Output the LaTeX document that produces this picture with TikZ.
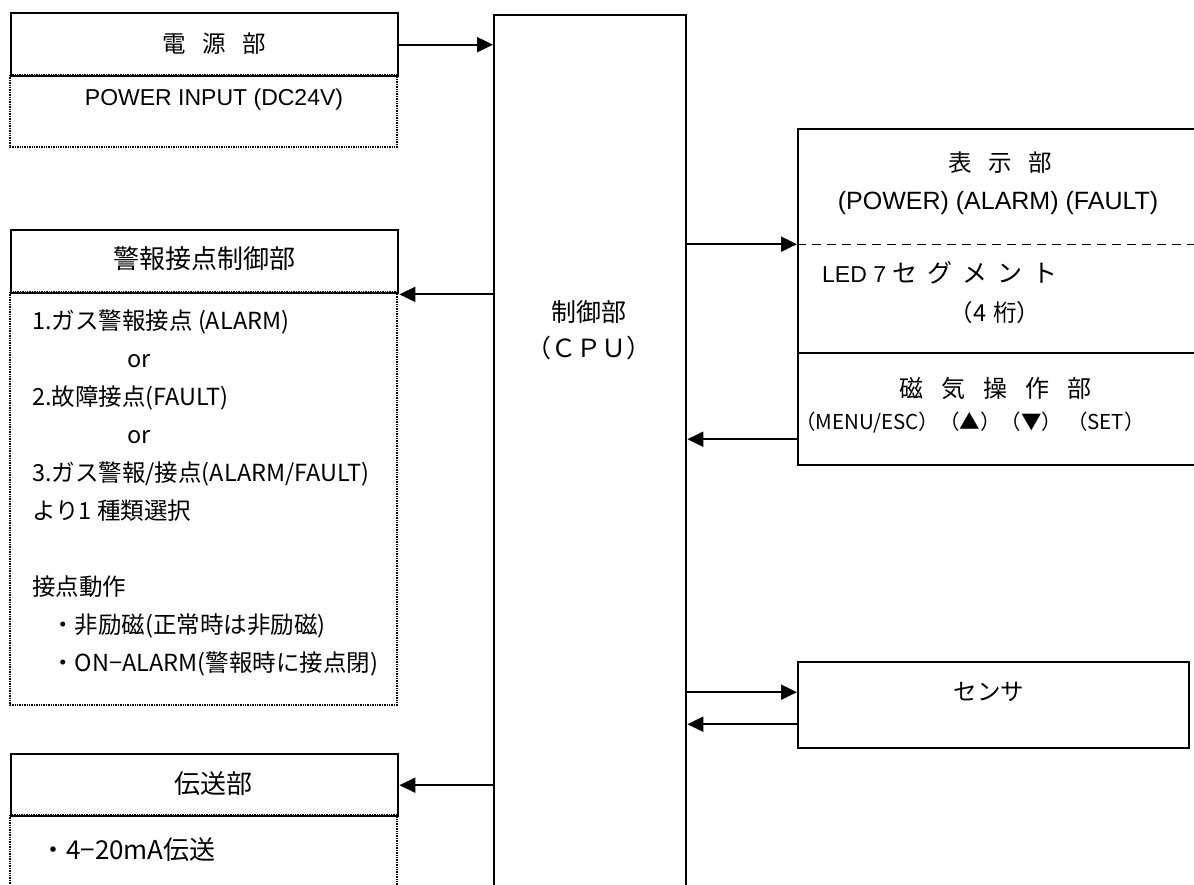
\documentclass[tikz,border=0pt]{standalone}
\usepackage{fontspec}
\setmainfont{Noto Sans CJK JP}
\newfontfamily\lat{Liberation Sans}
\usetikzlibrary{arrows.meta}
\newcommand{\sz}[1]{\fontsize{#1}{38}\selectfont}
\tikzset{
  blk/.style={draw, line width=2.4pt, anchor=north west, inner sep=0pt},
  dotbox/.style={draw, densely dotted, line width=1.4pt},
  sep/.style={line width=1.4pt, dash pattern=on 9pt off 6pt},
  arw/.style={-{Triangle[length=16pt,width=15pt]}, line width=2pt},
  txt/.style={font=\sz{23.5}, inner sep=0pt},
  head/.style={font=\sz{26}, inner sep=0pt},
}
\begin{document}
\begin{tikzpicture}[x=1pt,y=-1pt]
\useasboundingbox (0,0) rectangle (1194,884);
\clip (0,0) rectangle (1194,884);
% left side
\draw[dotbox] (10,75) rectangle (397,147);
\node[blk, minimum width=387pt, minimum height=63pt] (pwr) at (10,12) {};
\node[txt] (pwrname) at (214,44) {電\hspace{0.7em}源\hspace{0.7em}部};
\node[txt, font=\sz{23}\lat] (pwrin) at (214,100) {POWER INPUT (DC24V)};
\draw[dotbox] (10,292) rectangle (397,705);
\node[blk, minimum width=387pt, minimum height=63pt] (alm) at (10,229) {};
\node[head] (almname) at (204,259) {警報接点制御部};
\node[txt, anchor=north west, align=left] (almlist) at (32,310) {1.ガス警報接点 (ALARM)\\
  \hspace*{95pt}or\\
  2.故障接点(FAULT)\\
  \hspace*{95pt}or\\
  3.ガス警報/接点(ALARM/FAULT)\\
  より1 種類選択\\[38pt]
  接点動作\\
  \hspace*{19pt}・非励磁(正常時は非励磁)\\
  \hspace*{19pt}・ON−ALARM(警報時に接点閉)};
\draw[dotbox] (10,815) rectangle (397,900);
\node[blk, minimum width=387pt, minimum height=62pt] (tx) at (10,753) {};
\node[head] (txname) at (213,784) {伝送部};
\node[head, anchor=west] (txitem) at (40,850) {・4−20mA伝送};
% CPU
\node[blk, minimum width=192pt, minimum height=900pt] (cpu) at (493,14) {};
\node[head, align=center, font=\fontsize{25}{36}\selectfont] (cputxt) at (589,330) {制御部\\（ＣＰＵ）};
% right side
\node[blk, minimum width=420pt, minimum height=224pt] (disp) at (797,128) {};
\node[blk, minimum width=420pt, minimum height=112pt] (ops) at (797,352) {};
\coordinate (d1) at ([yshift=-3pt]disp.west);
\draw[sep] (d1) -- (d1 -| disp.east);
\node[txt] (dispname) at (1000,163) {表\hspace{0.7em}示\hspace{0.7em}部};
\node[txt, font=\sz{25}\lat] (displeds) at (998,203) {(POWER) (ALARM) (FAULT)};
\node[txt, font=\sz{25}, anchor=west] (dispseg) at (822,273) {{\fontsize{23}{38}\selectfont\lat LED 7 }セ\hspace{0.4em}グ\hspace{0.4em}メ\hspace{0.4em}ン\hspace{0.4em}ト};
\node[txt] (dispdig) at (995,313) {（4\hspace{0.3em}桁）};
\node[txt, font=\sz{24}] (opsname) at (995,388) {磁\hspace{0.75em}気\hspace{0.75em}操\hspace{0.75em}作\hspace{0.75em}部};
\node[txt, font=\sz{20.5}] (opskeys) at (970,423) {（MENU/ESC）（▲）（▼） （SET）};
\node[blk, minimum width=391pt, minimum height=86pt] (sens) at (797,661) {};
\node[txt] (senstxt) at (989,692) {センサ};
% arrows
\draw[arw] (pwr.east) -- (pwr.east -| cpu.west);
\draw[arw] (alm.south east -| cpu.west) -- (alm.south east);
\draw[arw] (tx.east -| cpu.west) -- (tx.east);
\draw[arw] (cpu.east |- d1) -- (d1);
\coordinate (o1) at ([yshift=-30pt]ops.west);
\draw[arw] (o1) -- (cpu.east |- o1);
\coordinate (s1) at ([yshift=13pt]sens.west);
\coordinate (s2) at ([yshift=-19pt]sens.west);
\draw[arw] (cpu.east |- s1) -- (s1);
\draw[arw] (s2) -- (cpu.east |- s2);
\end{tikzpicture}
\end{document}
